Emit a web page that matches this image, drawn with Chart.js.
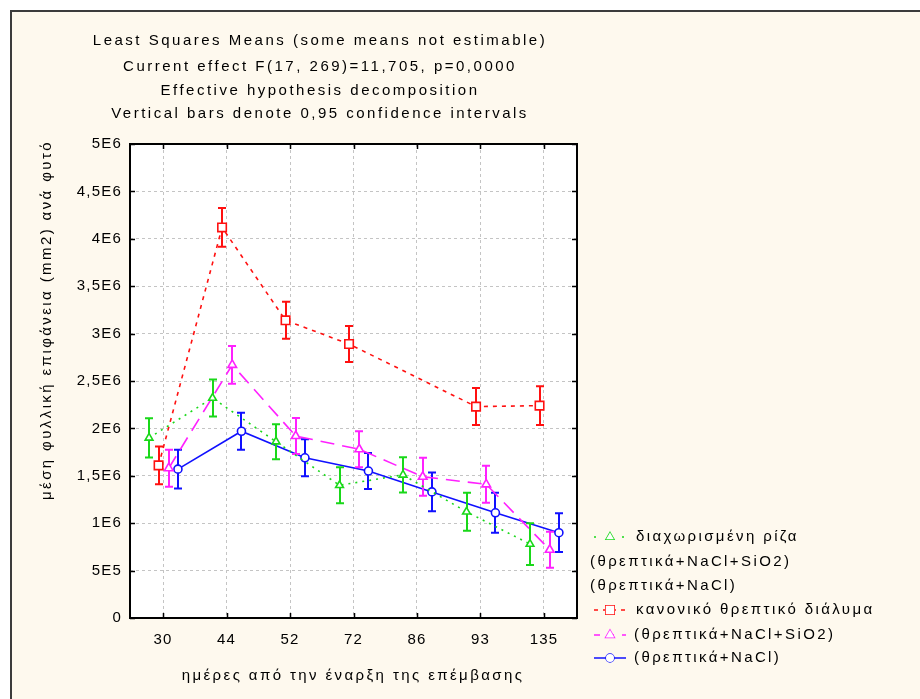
<!DOCTYPE html>
<html>
<head>
<meta charset="utf-8">
<title>Least Squares Means</title>
<script src="https://cdn.jsdelivr.net/npm/chart.js@4.4.1/dist/chart.umd.min.js"></script>
<style>
  html, body { margin: 0; padding: 0; background: #ffffff; }
  canvas { display: block; }
</style>
</head>
<body>
<canvas id="lsm" width="920" height="699"></canvas>
<script>
// days since start of treatment
const days = ['30', '44', '52', '72', '86', '93', '135'];

// mean leaf area per plant (mm2), null = not estimable
const splitRoot   = [1.90e6, 2.32e6, 1.86e6, 1.40e6, 1.51e6, 1.12e6, 0.78e6];
const normalSol   = [1.61e6, 4.12e6, 3.14e6, 2.89e6, null,   2.23e6, 2.24e6];
const naclSio2    = [1.58e6, 2.67e6, 1.92e6, 1.78e6, 1.49e6, 1.41e6, 0.72e6];
const naclOnly    = [1.57e6, 1.97e6, 1.69e6, 1.55e6, 1.33e6, 1.11e6, 0.90e6];

// half width of the 0,95 confidence interval
const splitRootCi = [0.206e6, 0.195e6, 0.185e6, 0.19e6, 0.185e6, 0.20e6, 0.22e6];
const normalSolCi = [0.20e6, 0.205e6, 0.195e6, 0.19e6, null, 0.195e6, 0.205e6];
const naclSio2Ci  = [0.195e6, 0.20e6, 0.19e6, 0.19e6, 0.20e6, 0.195e6, 0.19e6];
const naclOnlyCi  = [0.205e6, 0.195e6, 0.195e6, 0.19e6, 0.205e6, 0.21e6, 0.205e6];

const yTicks = [0, 5e5, 1e6, 1.5e6, 2e6, 2.5e6, 3e6, 3.5e6, 4e6, 4.5e6, 5e6];

const titleLines = [
  'Least Squares Means (some means not estimable)',
  'Current effect F(17, 269)=11,705, p=0,0000',
  'Effective hypothesis decomposition',
  'Vertical bars denote 0,95 confidence intervals'
];

const FONT = '"Liberation Sans", Arial, sans-serif';

// series spread sideways around each day so the bars do not overlap
function points(values, shift) {
  return values.map((v, i) => ({ x: i + shift, y: v }));
}

function fmtE(v) {
  if (v === 0) return '0';
  const e = Math.floor(Math.log10(v) + 1e-9);
  const m = Math.round(v / Math.pow(10, e) * 10) / 10;
  return String(m).replace('.', ',') + 'E' + e;
}

const series = [
  { label: 'διαχωρισμένη ρίζα', data: splitRoot, ci: splitRootCi, color: '#19d819', dash: [2, 5], style: 'triangle', radius: 4.5, shift: -0.22 },
  { label: 'κανονικό θρεπτικό διάλυμα', data: normalSol, ci: normalSolCi, color: '#ff1010', dash: [4, 5], style: 'rect', radius: 6, shift: -0.07 },
  { label: '(θρεπτικά+NaCl+SiO2)', data: naclSio2, ci: naclSio2Ci, color: '#ff20ff', dash: [14, 8], style: 'triangle', radius: 5, shift: 0.09 },
  { label: '(θρεπτικά+NaCl)', data: naclOnly, ci: naclOnlyCi, color: '#1010ff', dash: [], style: 'circle', radius: 4, shift: 0.235 }
];

// page background, cream panel with frame, white plot area
const backdrop = {
  id: 'backdrop',
  beforeDraw(chart) {
    const { ctx, chartArea: a } = chart;
    ctx.save();
    ctx.fillStyle = '#ffffff';
    ctx.fillRect(0, 0, chart.width, chart.height);
    ctx.fillStyle = '#fef9ee';
    ctx.fillRect(11, 11, chart.width, chart.height);
    ctx.strokeStyle = '#3c3c3c';
    ctx.lineWidth = 2;
    ctx.strokeRect(11, 11, chart.width + 10, chart.height + 10);
    ctx.fillStyle = '#ffffff';
    ctx.fillRect(a.left, a.top, a.right - a.left, a.bottom - a.top);
    ctx.restore();
    ctx.letterSpacing = '1.2px';
  }
};

// confidence interval whiskers, drawn under each series' own line and markers
const whiskers = {
  id: 'whiskers',
  beforeDatasetDraw(chart, args) {
    const s = series[args.index];
    const xs = chart.scales.x, ys = chart.scales.y;
    const ctx = chart.ctx;
    ctx.save();
    ctx.strokeStyle = s.color;
    ctx.lineWidth = 2;
    ctx.setLineDash([]);
    s.data.forEach((v, i) => {
      if (v === null) return;
      const x = Math.round(xs.getPixelForValue(i + s.shift));
      const top = ys.getPixelForValue(v + s.ci[i]);
      const bot = ys.getPixelForValue(v - s.ci[i]);
      ctx.beginPath();
      ctx.moveTo(x, top); ctx.lineTo(x, bot);
      ctx.moveTo(x - 4, top); ctx.lineTo(x + 4, top);
      ctx.moveTo(x - 4, bot); ctx.lineTo(x + 4, bot);
      ctx.stroke();
    });
    ctx.restore();
  }
};

// plot frame with inward ticks, titles and the legend
const decor = {
  id: 'decor',
  afterDraw(chart) {
    const { ctx, chartArea: a } = chart;
    const xs = chart.scales.x, ys = chart.scales.y;
    ctx.save();
    ctx.setLineDash([]);
    ctx.strokeStyle = '#000000';
    ctx.lineWidth = 2;
    ctx.strokeRect(a.left, a.top, a.right - a.left, a.bottom - a.top);
    ctx.lineWidth = 1.5;
    ctx.beginPath();
    yTicks.forEach(t => {
      const y = Math.round(ys.getPixelForValue(t)) + 0.5;
      ctx.moveTo(a.left, y); ctx.lineTo(a.left + 5, y);
      ctx.moveTo(a.right, y); ctx.lineTo(a.right - 5, y);
    });
    days.forEach((d, i) => {
      const x = Math.round(xs.getPixelForValue(i)) + 0.5;
      ctx.moveTo(x, a.top); ctx.lineTo(x, a.top + 5);
      ctx.moveTo(x, a.bottom); ctx.lineTo(x, a.bottom - 5);
    });
    ctx.stroke();

    ctx.fillStyle = '#000000';
    ctx.textBaseline = 'middle';
    ctx.textAlign = 'center';
    ctx.font = '15px ' + FONT;
    ctx.letterSpacing = '2.5px';
    const ty = [41, 67, 91, 114];
    titleLines.forEach((t, i) => ctx.fillText(t, 320, ty[i]));

    ctx.letterSpacing = '2.4px';
    ctx.fillText('ημέρες από την έναρξη της επέμβασης', 353, 676);

    ctx.save();
    ctx.translate(47, 320);
    ctx.rotate(-Math.PI / 2);
    ctx.fillText('μέση φυλλική επιφάνεια (mm2) ανά φυτό', 0, 0);
    ctx.restore();

    // legend
    ctx.textAlign = 'left';
    ctx.font = '15px ' + FONT;
    ctx.letterSpacing = '2.4px';
    const rows = [
      { s: series[0], y: 537, tx: 636 },
      { text: '(θρεπτικά+NaCl+SiO2)', y: 562, tx: 590 },
      { text: '(θρεπτικά+NaCl)', y: 586, tx: 590 },
      { s: series[1], y: 610, tx: 636 },
      { s: series[2], y: 635, tx: 634 },
      { s: series[3], y: 658, tx: 634 }
    ];
    rows.forEach(r => {
      if (r.s) {
        ctx.save();
        ctx.strokeStyle = r.s.color;
        ctx.lineWidth = 1.5;
        ctx.setLineDash(r.s.dash.length ? [Math.min(r.s.dash[0], 6), r.s.dash[1]] : []);
        if (r.s.dash[0] === 2) ctx.setLineDash([2, 12]);
        ctx.beginPath();
        ctx.moveTo(594, r.y); ctx.lineTo(626, r.y);
        ctx.stroke();
        ctx.setLineDash([]);
        ctx.fillStyle = '#ffffff';
        Chart.helpers.drawPoint(ctx, { pointStyle: r.s.style, radius: r.s.radius, rotation: 0, borderWidth: 1.5 }, 610, r.y);
        ctx.fill();
        ctx.restore();
        ctx.fillStyle = '#000000';
        ctx.fillText(r.s.label, r.tx, r.y);
      } else {
        ctx.fillText(r.text, r.tx, r.y);
      }
    });
    ctx.restore();
  }
};

new Chart(document.getElementById('lsm'), {
  type: 'line',
  data: {
    datasets: series.map(s => ({
      label: s.label,
      data: points(s.data, s.shift),
      borderColor: s.color,
      borderWidth: 1.6,
      borderDash: s.dash,
      pointStyle: s.style,
      pointRadius: s.radius,
      pointBorderWidth: 1.6,
      pointBorderColor: s.color,
      pointBackgroundColor: '#ffffff',
      spanGaps: true,
      tension: 0,
      fill: false
    }))
  },
  options: {
    responsive: false,
    animation: false,
    devicePixelRatio: 1,
    layout: { padding: { left: 0, top: 144, right: 343, bottom: 0 } },
    plugins: {
      legend: { display: false },
      title: { display: false },
      tooltip: { enabled: false }
    },
    scales: {
      x: {
        type: 'linear',
        min: -0.52,
        max: 6.52,
        afterBuildTicks: scale => { scale.ticks = days.map((d, i) => ({ value: i })); },
        afterFit: scale => { scale.height = 81; },
        ticks: {
          callback: v => days[v],
          color: '#000000',
          font: { family: FONT, size: 15 },
          padding: 13,
          maxRotation: 0,
          autoSkip: false
        },
        grid: { color: '#c4c4c4', lineWidth: 1, drawTicks: false },
        border: { display: false, dash: [3, 3] }
      },
      y: {
        type: 'linear',
        min: 0,
        max: 5e6,
        afterBuildTicks: scale => { scale.ticks = yTicks.map(v => ({ value: v })); },
        afterFit: scale => { scale.width = 130; },
        ticks: {
          callback: v => fmtE(v),
          color: '#000000',
          font: { family: FONT, size: 15 },
          padding: 8,
          autoSkip: false
        },
        grid: { color: '#c4c4c4', lineWidth: 1, drawTicks: false },
        border: { display: false, dash: [3, 3] }
      }
    }
  },
  plugins: [backdrop, whiskers, decor]
});
</script>
</body>
</html>
